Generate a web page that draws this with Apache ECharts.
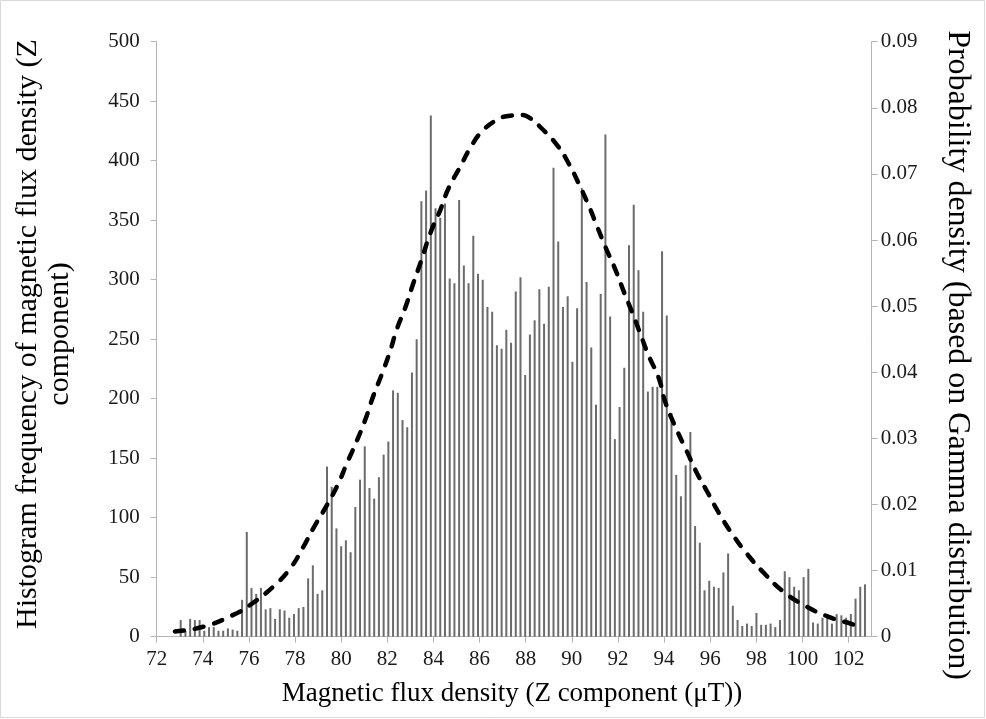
<!DOCTYPE html>
<html>
<head>
<meta charset="utf-8">
<script src="https://cdn.jsdelivr.net/npm/echarts@6/dist/echarts.min.js"></script>
<style>
html,body{margin:0;padding:0;background:#fff;}
#chart{width:986px;height:719px;}
</style>
</head>
<body>
<div id="chart"></div>
<script>
// Histogram bins (centre of first bin and bin spacing, in µT)
const binStart = 73.041;
const binWidth = 0.2046;
// Histogram frequencies, one per bin
const frequencies = [
  14, 5, 15, 14, 14, 5, 8, 8, 5, 5,
  7, 6, 5, 31, 88, 41, 36, 41, 23, 24,
  15, 23, 22, 16, 19, 24, 25, 49, 60, 36,
  39, 143, 126, 91, 76, 81, 71, 109, 132, 160,
  125, 116, 134, 153, 164, 207, 205, 182, 176, 222,
  250, 366, 375, 438, 360, 352, 364, 301, 297, 367,
  312, 297, 337, 305, 300, 277, 273, 245, 242, 258,
  247, 290, 302, 220, 254, 266, 292, 263, 294, 394,
  332, 277, 286, 231, 276, 377, 298, 243, 195, 288,
  422, 269, 166, 193, 226, 329, 363, 308, 273, 206,
  210, 210, 324, 270, 188, 136, 118, 144, 172, 93,
  79, 39, 47, 42, 41, 54, 70, 26, 14, 9,
  11, 9, 20, 10, 10, 11, 8, 14, 55, 50,
  42, 39, 50, 57, 12, 11, 16, 16, 11, 19,
  18, 16, 19, 32, 42, 44
];
// Gamma probability density curve (x in µT, density)
const pdfX = [72.79, 74.02, 75.32, 76.05, 77.06, 77.78, 78.36, 78.79, 79.38, 79.88,
  80.24, 80.60, 81.04, 81.40, 81.76, 82.12, 82.41, 82.77, 83.13, 83.50,
  83.86, 84.29, 84.65, 85.16, 85.59, 86.10, 86.82, 87.33, 87.84, 88.20, 88.63,
  89.35, 89.86, 90.29, 90.73, 91.09, 91.45, 91.89, 92.24, 92.61, 92.97,
  93.33, 93.76, 94.05, 94.48, 94.99, 95.43, 95.86, 96.36, 96.94, 97.60,
  98.39, 99.18, 100.05, 101.14, 102.15, 102.37];
const pdfY = [0.0008, 0.0015, 0.0033, 0.0048, 0.0076, 0.0103, 0.0136, 0.0164, 0.0199, 0.0232,
  0.0262, 0.0290, 0.0328, 0.0365, 0.0397, 0.0432, 0.0465, 0.0497, 0.0535, 0.0572,
  0.0610, 0.0645, 0.0678, 0.0711, 0.0739, 0.0764, 0.0783, 0.0788, 0.0789, 0.0784, 0.0771,
  0.0744, 0.0716, 0.0686, 0.0652, 0.0621, 0.0590, 0.0555, 0.0523, 0.0491, 0.0458,
  0.0425, 0.0392, 0.0355, 0.0318, 0.0280, 0.0247, 0.0220, 0.0188, 0.0156, 0.0125,
  0.0094, 0.0068, 0.0048, 0.0030, 0.0019, 0.0016];
// Axis settings
const xMin = 72, xMax = 103, xStep = 2;
const yLeftMax = 500, yLeftStep = 50;
const yRightMax = 0.09, yRightStep = 0.01;
const xTitle = 'Magnetic flux density (Z component (\u03bcT))';
const yLeftTitle1 = 'Histogram frequency of magnetic flux density (Z';
const yLeftTitle2 = 'component)';
const yRightTitle = 'Probability density (based on Gamma distribution)';

const barData = frequencies.map((v, i) => [binStart + i * binWidth, v]);
const lineData = pdfX.map((x, i) => [x, pdfY[i]]);

const FONT = '"Liberation Serif", "Times New Roman", serif';
const axisColor = '#b4b4b4';

const chart = echarts.init(document.getElementById('chart'), null, {renderer: 'canvas'});
chart.setOption({
  animation: false,
  backgroundColor: '#ffffff',
  grid: {left: 156.7, right: 114.3, top: 41.7, bottom: 82.3, containLabel: false},
  xAxis: {
    type: 'value', min: xMin, max: xMax, interval: xStep,
    axisLine: {show: true, onZero: false, lineStyle: {color: axisColor, width: 1}},
    axisTick: {show: true, inside: false, length: 6, lineStyle: {color: axisColor}},
    axisLabel: {show: true, fontFamily: FONT, fontSize: 21, color: '#1a1a1a', margin: 12,
      showMaxLabel: false,
      formatter: v => (Math.abs(v - xMax) < 1e-9 ? '' : String(v))},
    splitLine: {show: false}
  },
  yAxis: [
    {
      type: 'value', min: 0, max: yLeftMax, interval: yLeftStep, position: 'left',
      axisLine: {show: true, lineStyle: {color: axisColor, width: 1}},
      axisTick: {show: true, inside: false, length: 6, lineStyle: {color: axisColor}},
      axisLabel: {fontFamily: FONT, fontSize: 21, color: '#1a1a1a', margin: 17},
      splitLine: {show: false}
    },
    {
      type: 'value', min: 0, max: yRightMax, interval: yRightStep, position: 'right',
      axisLine: {show: true, lineStyle: {color: axisColor, width: 1}},
      axisTick: {show: true, inside: false, length: 6, lineStyle: {color: axisColor}},
      axisLabel: {fontFamily: FONT, fontSize: 21, color: '#1a1a1a', margin: 9,
        formatter: v => (v === 0 ? '0' : v.toFixed(2))},
      splitLine: {show: false}
    }
  ],
  series: [
    {
      type: 'bar', name: 'Histogram', xAxisIndex: 0, yAxisIndex: 0,
      data: barData, barWidth: 2,
      itemStyle: {color: '#6b6b6b'},
      z: 2
    },
    {
      type: 'line', name: 'Gamma PDF', xAxisIndex: 0, yAxisIndex: 1,
      data: lineData, smooth: true, showSymbol: false, symbol: 'none',
      lineStyle: {color: '#000000', width: 4.5, type: [9, 11], cap: 'round'},
      z: 5
    }
  ],
  graphic: [
    {type: 'rect', shape: {x: 0.5, y: 0.5, width: 984, height: 717},
      style: {fill: 'none', stroke: '#d9d9d9', lineWidth: 1}, silent: true},
    {type: 'text', x: 512, y: 694,
      style: {text: xTitle, font: '27px ' + FONT, fill: '#000', textAlign: 'center', textVerticalAlign: 'middle'}},
    {type: 'text', x: 28, y: 334, rotation: Math.PI / 2,
      style: {text: yLeftTitle1, font: '30px ' + FONT, fill: '#000', textAlign: 'center', textVerticalAlign: 'middle'}},
    {type: 'text', x: 60, y: 334, rotation: Math.PI / 2,
      style: {text: yLeftTitle2, font: '30px ' + FONT, fill: '#000', textAlign: 'center', textVerticalAlign: 'middle'}},
    {type: 'text', x: 957, y: 355, rotation: -Math.PI / 2,
      style: {text: yRightTitle, font: '32px ' + FONT, fill: '#000', textAlign: 'center', textVerticalAlign: 'middle'}}
  ]
});
</script>
</body>
</html>
